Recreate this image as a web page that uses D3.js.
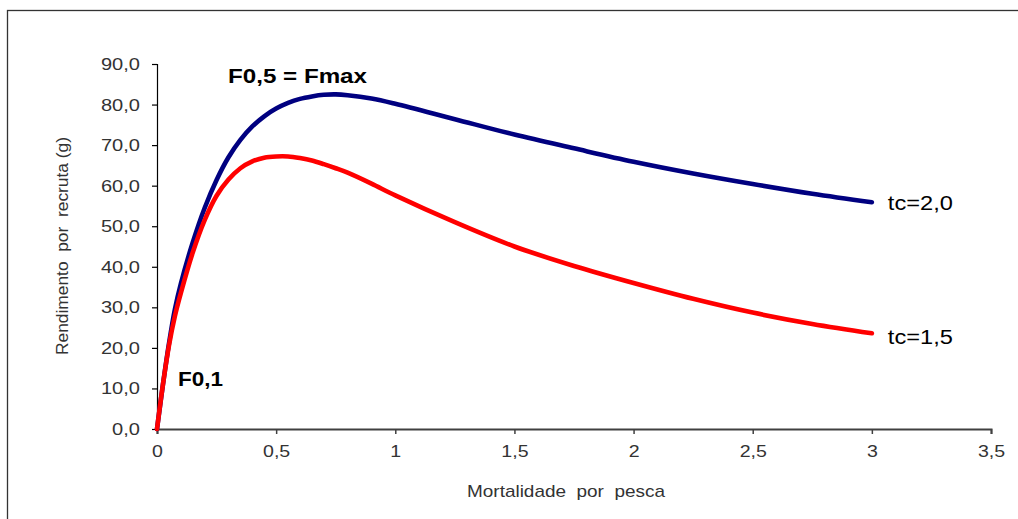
<!DOCTYPE html>
<html>
<head>
<meta charset="utf-8">
<script src="https://cdn.jsdelivr.net/npm/d3@7"></script>
<style>
  html, body { margin: 0; padding: 0; background: #fff; }
  svg { display: block; font-family: "Liberation Sans", Arial, sans-serif; }
</style>
</head>
<body>
<svg id="chart" width="1018" height="519"></svg>
<script>
// Fishing mortality (F) values at which yield per recruit is sampled
const mortality = [0, 0.025, 0.05, 0.075, 0.1, 0.15, 0.2, 0.25, 0.3, 0.35, 0.4, 0.45, 0.5, 0.55, 0.6, 0.65, 0.7, 0.75, 0.8, 0.9, 1.0, 1.25, 1.5, 1.75, 2.0, 2.25, 2.5, 2.75, 3.0];

// Yield per recruit (g), first-capture age tc = 2,0
const yieldTc20 = [0, 11, 21, 29.5, 35.8, 46, 54.5, 61.4, 67, 71.3, 74.6, 77.1, 79.0, 80.4, 81.4, 82.0, 82.4, 82.5, 82.3, 81.5, 80.2, 76.4, 72.6, 69.2, 65.9, 63.0, 60.4, 58.0, 55.9];

// Yield per recruit (g), first-capture age tc = 1,5
const yieldTc15 = [0, 11, 20.5, 27.8, 33.5, 43.5, 51.5, 57.5, 61.5, 64.3, 66.0, 66.9, 67.2, 67.2, 66.8, 66.2, 65.3, 64.3, 63.2, 60.5, 57.6, 51.0, 45.0, 40.2, 36.0, 32.1, 28.7, 25.9, 23.6];

const seriesNames = ["tc=2,0", "tc=1,5"];
const xTicks = [0, 0.5, 1, 1.5, 2, 2.5, 3, 3.5];
const yTicks = [0, 10, 20, 30, 40, 50, 60, 70, 80, 90];
const xTitle = "Mortalidade  por  pesca";
const yTitle = "Rendimento  por  recruta (g)";
const notes = ["F0,5 = Fmax", "F0,1"];

const svg = d3.select("#chart");

// chart frame (runs past the right and bottom edges)
svg.append("rect")
  .attr("x", 7.5).attr("y", 10.5)
  .attr("width", 1040).attr("height", 540)
  .attr("fill", "none").attr("stroke", "#333").attr("stroke-width", 1.3);

const x = d3.scaleLinear().domain([0, 3.5]).range([157, 991]);
const y = d3.scaleLinear().domain([0, 90]).range([429, 64]);

const comma = v => String(v).replace(".", ",");

// horizontally widen a text element to the given factor of its natural length
function widen(sel, k) {
  sel.each(function () {
    const w = this.getComputedTextLength();
    d3.select(this).attr("textLength", w * k).attr("lengthAdjust", "spacingAndGlyphs");
  });
}

// y axis
const yAxis = svg.append("g")
  .attr("transform", `translate(${x(0)},0)`)
  .call(d3.axisLeft(y).tickValues(yTicks).tickSize(5).tickPadding(12)
    .tickFormat(d => d3.format(".1f")(d).replace(".", ",")));
yAxis.select(".domain").attr("stroke", "#000").attr("stroke-width", 1.2);
yAxis.selectAll(".tick line").attr("stroke", "#000").attr("stroke-width", 1.2);
yAxis.selectAll("text")
  .attr("font-size", 17).attr("fill", "#333")
  .attr("font-family", "Liberation Sans, Arial, sans-serif")
  .call(widen, 1.18);

// x axis
const xAxis = svg.append("g")
  .attr("transform", `translate(0,${y(0)})`)
  .call(d3.axisBottom(x).tickValues(xTicks).tickSize(5).tickPadding(11)
    .tickFormat(comma));
xAxis.select(".domain").attr("stroke", "#404040").attr("stroke-width", 2);
xAxis.selectAll(".tick line").attr("stroke", "#404040").attr("stroke-width", 1.5);
xAxis.selectAll("text")
  .attr("font-size", 17).attr("fill", "#333")
  .attr("font-family", "Liberation Sans, Arial, sans-serif")
  .call(widen, 1.15);

// axis titles
svg.append("text")
  .attr("x", 566).attr("y", 497)
  .attr("text-anchor", "middle")
  .attr("font-size", 17).attr("fill", "#333")
  .style("white-space", "pre")
  .attr("textLength", 198).attr("lengthAdjust", "spacingAndGlyphs")
  .text(xTitle);

svg.append("text")
  .attr("transform", "translate(68,246) rotate(-90)")
  .attr("text-anchor", "middle")
  .attr("font-size", 16).attr("fill", "#333")
  .style("white-space", "pre")
  .attr("textLength", 218).attr("lengthAdjust", "spacingAndGlyphs")
  .text(yTitle);

// yield curves
const line = d3.line()
  .x(d => x(d[0]))
  .y(d => y(d[1]))
  .curve(d3.curveCatmullRom.alpha(0.5));

const series = [
  { name: seriesNames[0], values: yieldTc20, color: "#000080", dy: 8 },
  { name: seriesNames[1], values: yieldTc15, color: "#ff0000", dy: 11 }
];

series.forEach(s => {
  const pts = mortality.map((f, i) => [f, s.values[i]]);
  svg.append("path")
    .datum(pts)
    .attr("d", line)
    .attr("fill", "none")
    .attr("stroke", s.color)
    .attr("stroke-width", 4.6)
    .attr("stroke-linecap", "round")
    .attr("stroke-linejoin", "round");

  const last = pts[pts.length - 1];
  svg.append("text")
    .attr("x", x(last[0]) + 16)
    .attr("y", y(last[1]) + s.dy)
    .attr("font-size", 20).attr("fill", "#000")
    .attr("textLength", 65).attr("lengthAdjust", "spacingAndGlyphs")
    .text(s.name);
});

// reference-point annotations
svg.append("text")
  .attr("x", 228).attr("y", 83)
  .attr("font-size", 20).attr("font-weight", "bold").attr("fill", "#000")
  .attr("textLength", 139).attr("lengthAdjust", "spacingAndGlyphs")
  .text(notes[0]);

svg.append("text")
  .attr("x", 178).attr("y", 386)
  .attr("font-size", 20).attr("font-weight", "bold").attr("fill", "#000")
  .attr("textLength", 45).attr("lengthAdjust", "spacingAndGlyphs")
  .text(notes[1]);
</script>
</body>
</html>
